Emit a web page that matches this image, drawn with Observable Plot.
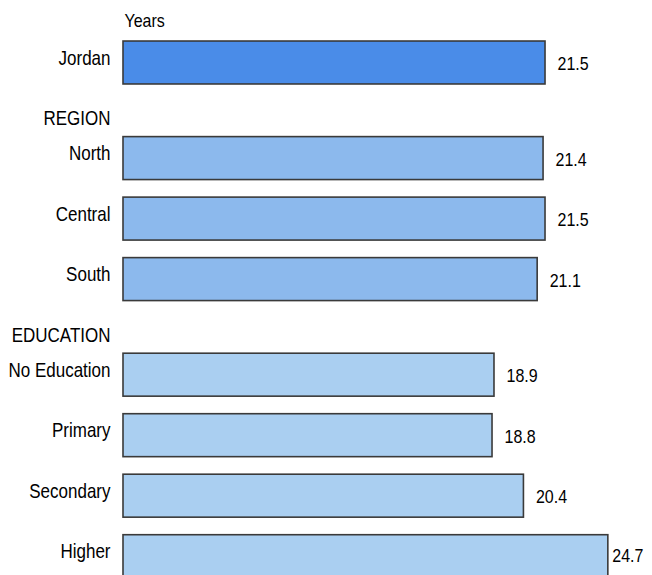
<!DOCTYPE html>
<html>
<head>
<meta charset="utf-8">
<script src="https://cdn.jsdelivr.net/npm/d3@7"></script>
<script src="https://cdn.jsdelivr.net/npm/@observablehq/plot@0.6"></script>
<style>
  html, body { margin: 0; padding: 0; background: white; }
  #chart { width: 652px; height: 575px; overflow: hidden; }
</style>
</head>
<body>
<div id="chart"></div>
<script>
// ---- data ----
const categories = ["Jordan", "North", "Central", "South", "No Education", "Primary", "Secondary", "Higher"];
const groups = ["Total", "REGION", "REGION", "REGION", "EDUCATION", "EDUCATION", "EDUCATION", "EDUCATION"];
const values = [21.5, 21.4, 21.5, 21.1, 18.9, 18.8, 20.4, 24.7];
const unitLabel = "Years";

// ---- layout in row units (not data) ----
const groupGap = 1.58, headerOffset = 0.66;
const rows = [];
const headers = [];
let pos = 0;
categories.forEach((c, i) => {
  if (i > 0) {
    if (groups[i] !== groups[i - 1]) {
      pos += groupGap;
      headers.push({label: groups[i], pos: pos - headerOffset});
    } else pos += 1;
  }
  rows.push({category: c, group: groups[i], value: values[i], pos});
});

const fills = {Total: "#4a8ce8", REGION: "#8cb9ed", EDUCATION: "#aacff1"};
const font = "'Liberation Sans', Arial, Helvetica, sans-serif";
const half = 0.355;

const chart = Plot.plot({
  width: 652,
  height: 575,
  marginLeft: 123,
  marginRight: 0,
  marginTop: 0,
  marginBottom: 0,
  style: {fontFamily: font, fontSize: "17px", color: "black", background: "white"},
  x: {domain: [0, 26.95], axis: null},
  y: {domain: [-1.033, 8.471], reverse: true, axis: null},
  marks: [
    Plot.rect(rows, {
      x1: 0, x2: "value",
      y1: d => d.pos - half, y2: d => d.pos + half,
      fill: d => fills[d.group],
      stroke: "#3a3a3a", strokeWidth: 1.6
    }),
    Plot.text(rows, {
      x: 0, y: "pos", text: "category",
      textAnchor: "end", dx: -13, dy: -5, fill: "black", fontSize: 17
    }),
    Plot.text(rows.filter(d => d.category !== "Higher"), {
      x: "value", y: "pos", text: d => d.value.toFixed(1),
      textAnchor: "start", dx: 12, dy: 1, fill: "black", fontSize: 16
    }),
    Plot.text(rows.filter(d => d.category === "Higher"), {
      x: "value", y: "pos", text: d => d.value.toFixed(1),
      textAnchor: "start", dx: 4, dy: -1, fill: "black", fontSize: 16
    }),
    Plot.text(headers, {
      x: 0, y: "pos", text: "label",
      textAnchor: "end", dx: -13, fill: "black", fontSize: 17
    }),
    Plot.text([unitLabel], {
      x: 0, y: -0.69, text: d => d,
      textAnchor: "start", dx: 1, fill: "black", fontSize: 16
    })
  ]
});
// tall, narrow-looking type like the reference: stretch glyphs vertically about their anchor
chart.querySelectorAll("text").forEach(t => {
  const tr = t.getAttribute("transform");
  if (tr) t.setAttribute("transform", tr + " scale(1,1.2)");
});
document.getElementById("chart").appendChild(chart);
</script>
</body>
</html>
